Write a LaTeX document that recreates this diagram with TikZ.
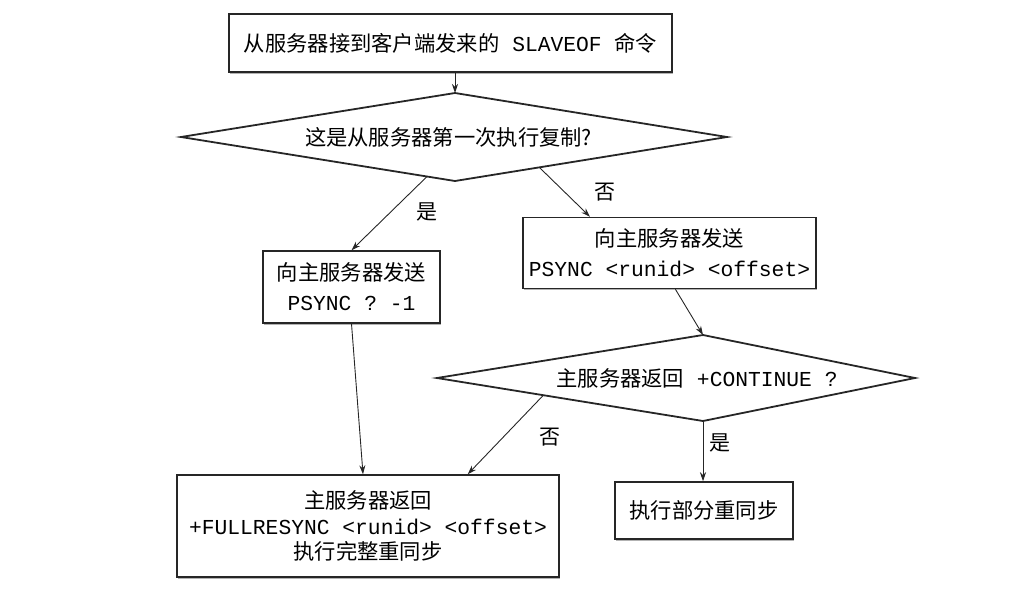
\documentclass[tikz,border=0pt]{standalone}
\usepackage{fontspec}
\setmainfont{Noto Sans CJK SC}
\setmonofont{Liberation Mono}
\usetikzlibrary{arrows.meta,shadows,calc}
\begin{document}
\begin{tikzpicture}[x=1pt,y=-1pt,
  box/.style={draw=black!85, line width=1.5pt, fill=white, inner sep=0pt, align=center,
    font=\fontsize{21.3}{30}\selectfont,
    drop shadow={shadow xshift=1pt,shadow yshift=-1.5pt,opacity=0.3,fill=black}},
  arr/.style={draw=black!85, line width=0.9pt, -{Stealth[length=9pt,width=6pt]}},
  lbl/.style={font=\fontsize{21}{24}\selectfont, inner sep=0pt},
  dia/.style={draw=black!85, line width=1.8pt, line join=miter},
  dtext/.style={font=\fontsize{21.3}{24}\selectfont, inner sep=0pt}]
\useasboundingbox (0,0) rectangle (1036,606);

% boxes
\node[box, minimum width=443pt, minimum height=58pt] (b1) at (450.5,43)
  {从服务器接到客户端发来的\texttt{ SLAVEOF }命令};
\node[box, minimum width=177pt, minimum height=72pt] (b2) at (351.5,287)
  {向主服务器发送\\\texttt{PSYNC ? -1}};
\node[box, minimum width=293pt, minimum height=71pt] (b3) at (669.5,253)
  {向主服务器发送\\\texttt{PSYNC <runid> <offset>}};
\node[box, minimum width=382pt, minimum height=102pt, font=\fontsize{21.3}{25.5}\selectfont] (b4) at (368,526)
  {主服务器返回\\\texttt{+FULLRESYNC <runid> <offset>}\\执行完整重同步};
\node[box, minimum width=178pt, minimum height=57pt] (b5) at (704,510.5)
  {执行部分重同步};

% diamond 1
\coordinate (d1t) at (455,93);
\coordinate (d1l) at (181,137);
\coordinate (d1r) at (727,137);
\coordinate (d1b) at (455,181);
\draw[dia] (d1t) -- (d1r) -- (d1b) -- (d1l) -- cycle;
\node[dtext] (d1) at (448.5,137) {这是从服务器第一次执行复制?};

% diamond 2
\coordinate (d2t) at (703,335);
\coordinate (d2l) at (437,378);
\coordinate (d2r) at (915,378);
\coordinate (d2b) at (703,421);
\draw[dia] (d2t) -- (d2r) -- (d2b) -- (d2l) -- cycle;
\node[dtext] (d2) at (697,378) {主服务器返回\texttt{ +CONTINUE ?}};

% connectors
\draw[arr] (b1.south -| d1t) -- (d1t);
\coordinate (d1yes) at ($(d1l)!0.898!(d1b)$);
\draw[arr] (d1yes) -- (b2.north);
\coordinate (d1no) at ($(d1b)!0.31!(d1r)$);
\coordinate (b3in) at ($(b3.north west)!0.23!(b3.north east)$);
\draw[arr] (d1no) -- (b3in);
\coordinate (b4inA) at ($(b4.north west)!0.487!(b4.north east)$);
\draw[arr] (b2.south) -- (b4inA);
\coordinate (b3out) at ($(b3.south west)!0.52!(b3.south east)$);
\draw[arr] (b3out) -- (d2t);
\coordinate (d2no) at ($(d2l)!0.4!(d2b)$);
\coordinate (b4inB) at ($(b4.north west)!0.76!(b4.north east)$);
\draw[arr] (d2no) -- (b4inB);
\draw[arr] (d2b) -- (d2b |- b5.north);

% labels
\node[lbl] (l1) at (427,212) {是};
\node[lbl] (l2) at (605,192) {否};
\node[lbl] (l3) at (550,437) {否};
\node[lbl] (l4) at (720,443) {是};
\end{tikzpicture}
\end{document}
